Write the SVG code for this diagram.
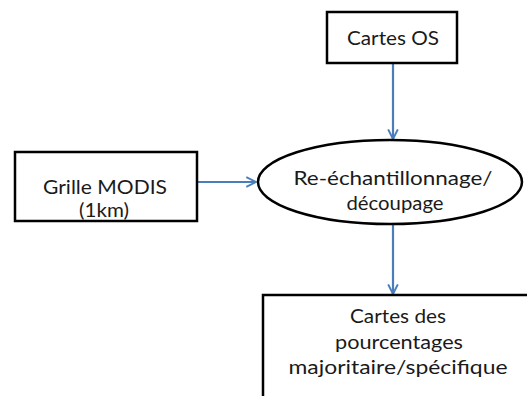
<svg xmlns="http://www.w3.org/2000/svg" width="527" height="396" viewBox="0 0 527 396">
<style>
.box{fill:#fff;stroke:#000;stroke-width:2.5}
.t{font-family:Lato,"Open Sans","Liberation Sans",sans-serif;font-size:19.5px;fill:#1a1a1a;text-anchor:middle}
.c{stroke:#4a7ebb;stroke-width:2.2;fill:none}
</style>
<defs>
<marker id="ah" viewBox="0 0 10 10" refX="9" refY="5" markerWidth="5.5" markerHeight="5.5" orient="auto" markerUnits="strokeWidth">
<path d="M1,1 L9,5 L1,9" fill="none" stroke="#4a7ebb" stroke-width="1.6"/>
</marker>
</defs>
<rect width="527" height="396" fill="#fff"/>
<g id="connectors">
<line class="c" x1="393" y1="63" x2="393" y2="139" marker-end="url(#ah)"/>
<line class="c" x1="197" y1="182" x2="256" y2="182" marker-end="url(#ah)"/>
<line class="c" x1="393" y1="225" x2="393" y2="294" marker-end="url(#ah)"/>
</g>
<g id="cartes-os">
<rect class="box" x="327" y="12" width="130" height="51"/>
<text class="t" x="393" y="45" textLength="92" lengthAdjust="spacingAndGlyphs">Cartes OS</text>
</g>
<g id="grille-modis">
<rect class="box" x="15" y="152" width="182" height="69"/>
<text class="t" x="105" y="194" textLength="124" lengthAdjust="spacingAndGlyphs">Grille MODIS</text>
<text class="t" x="104" y="217" textLength="50" lengthAdjust="spacingAndGlyphs">(1km)</text>
</g>
<g id="reechantillonnage">
<ellipse class="box" cx="390" cy="182" rx="132" ry="42"/>
<text class="t" x="393" y="185" textLength="199" lengthAdjust="spacingAndGlyphs">Re-échantillonnage/</text>
<text class="t" x="395" y="210" textLength="97" lengthAdjust="spacingAndGlyphs">découpage</text>
</g>
<g id="cartes-pourcentages">
<rect class="box" x="263" y="295" width="280" height="120"/>
<text class="t" x="398" y="323" textLength="96" lengthAdjust="spacingAndGlyphs">Cartes des</text>
<text class="t" x="399" y="349" textLength="128" lengthAdjust="spacingAndGlyphs">pourcentages</text>
<text class="t" x="398" y="374" textLength="219" lengthAdjust="spacingAndGlyphs">majoritaire/spécifique</text>
</g>
</svg>
